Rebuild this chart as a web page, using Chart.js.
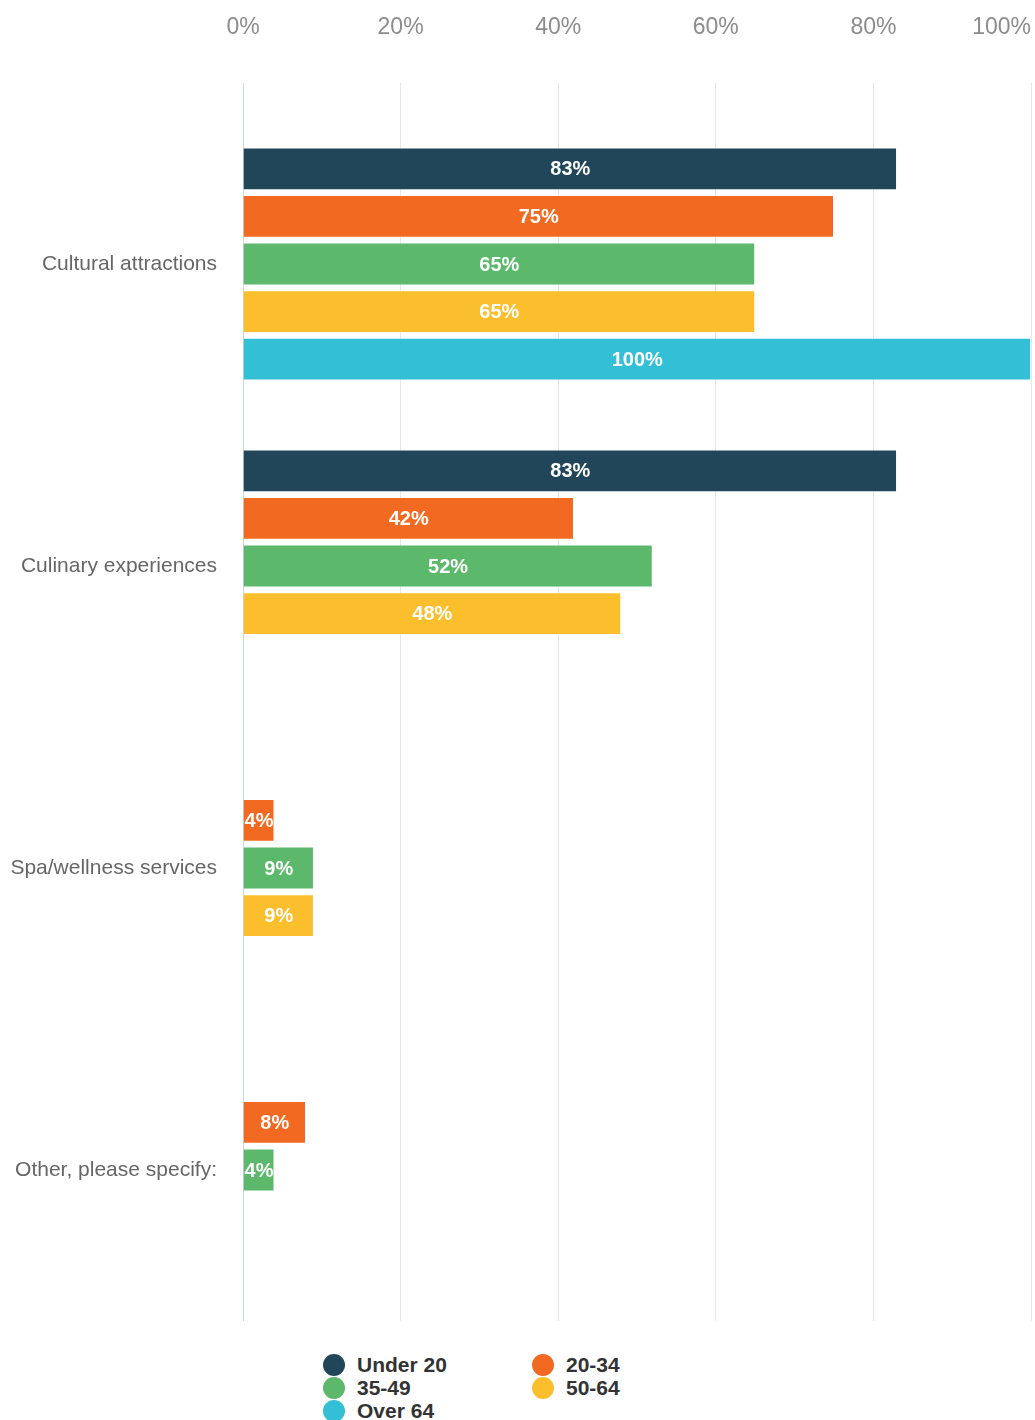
<!DOCTYPE html>
<html>
<head>
<meta charset="utf-8">
<title>Travel interests by age group</title>
<script src="https://cdn.jsdelivr.net/npm/chart.js@4/dist/chart.umd.min.js"></script>
<style>
  html, body { margin: 0; padding: 0; background: #ffffff; }
  #wrap { position: relative; width: 1035px; height: 1420px; }
  #box { position: absolute; left: 0; top: 0; width: 1035px; height: 1330px; }
  #legend {
    position: absolute; left: 323px; top: 1353px;
    display: grid; grid-template-columns: 209px 209px; grid-auto-rows: 23px;
    font: bold 21px 'Liberation Sans', Arial, sans-serif; color: #333333;
  }
  .item { display: flex; align-items: center; height: 23px; white-space: nowrap; }
  .dot { width: 22px; height: 22px; border-radius: 50%; margin-right: 12px; flex: none; }
</style>
</head>
<body>
<div id="wrap">
  <div id="box"><canvas id="chart"></canvas></div>
  <div id="legend"></div>
</div>
<script>
// Categories and answers (% of respondents per age group)
const categories = ['Cultural attractions', 'Culinary experiences', 'Spa/wellness services', 'Other, please specify:'];
const seriesNames = ['Under 20', '20-34', '35-49', '50-64', 'Over 64'];
const under20   = [83, 83, null, null];
const age20to34 = [75, 42, 4, 8];
const age35to49 = [65, 52, 9, 4];
const age50to64 = [65, 48, 9, null];
const over64    = [100, null, null, null];
const xTickValues = [0, 20, 40, 60, 80, 100];

const palette = ['#21465a', '#f26a21', '#5cb96b', '#fbbf2d', '#33bfd6'];
const seriesValues = [under20, age20to34, age35to49, age50to64, over64];

const FONT = "'Liberation Sans', Arial, sans-serif";
Chart.defaults.font.family = FONT;

// Percent labels across the top, kept inside the canvas at the right edge
const topTickLabels = {
  id: 'topTickLabels',
  afterDraw(chart) {
    const scale = chart.scales.x;
    const ctx = chart.ctx;
    ctx.save();
    ctx.font = '23px ' + FONT;
    ctx.fillStyle = '#8c8c8c';
    ctx.textBaseline = 'middle';
    ctx.textAlign = 'center';
    xTickValues.forEach(v => {
      const label = v + '%';
      const w = ctx.measureText(label).width;
      let x = scale.getPixelForValue(v);
      x = Math.min(x, chart.chartArea.right - w / 2);
      ctx.fillText(label, x, 28);
    });
    ctx.restore();
  }
};

// Value labels centred inside each bar
const barValueLabels = {
  id: 'barValueLabels',
  afterDatasetsDraw(chart) {
    const ctx = chart.ctx;
    ctx.save();
    ctx.font = 'bold 20px ' + FONT;
    ctx.fillStyle = '#ffffff';
    ctx.textAlign = 'center';
    ctx.textBaseline = 'middle';
    chart.data.datasets.forEach((ds, di) => {
      const meta = chart.getDatasetMeta(di);
      if (meta.hidden) return;
      meta.data.forEach((bar, i) => {
        const v = ds.data[i];
        if (v === null || v === undefined) return;
        const p = bar.getProps(['x', 'y', 'base'], true);
        ctx.fillText(v + '%', (p.x + p.base) / 2, p.y + 1);
      });
    });
    ctx.restore();
  }
};

const chart = new Chart(document.getElementById('chart'), {
  type: 'bar',
  data: {
    labels: categories,
    datasets: seriesNames.map((name, i) => ({
      label: name,
      data: seriesValues[i],
      backgroundColor: palette[i],
      borderColor: 'rgba(255,255,255,0.35)',
      borderWidth: 1,
      categoryPercentage: 0.788,
      barPercentage: 0.9
    }))
  },
  options: {
    indexAxis: 'y',
    responsive: true,
    maintainAspectRatio: false,
    animation: false,
    layout: { padding: { top: 83, bottom: 9, left: 0, right: 4 } },
    plugins: {
      legend: { display: false },
      tooltip: { enabled: false }
    },
    scales: {
      x: {
        position: 'top',
        min: 0,
        max: 100,
        ticks: { stepSize: 20, display: false },
        border: { display: false },
        grid: {
          tickLength: 30,
          lineWidth: 1,
          color: c => (c.tick && c.tick.value === 0) ? '#ccd6eb' : '#e6e6e6'
        }
      },
      y: {
        border: { display: false },
        grid: { display: false, drawTicks: false },
        ticks: {
          padding: 26,
          color: '#666666',
          font: { size: 21 }
        },
        afterFit(scale) {
          scale.width = 243;
          scale.paddingTop = 0;
          scale.paddingBottom = 0;
        }
      }
    }
  },
  plugins: [topTickLabels, barValueLabels]
});

// Legend laid out in two columns below the plot
const legendEl = document.getElementById('legend');
chart.data.datasets.forEach(ds => {
  const item = document.createElement('div');
  item.className = 'item';
  const dot = document.createElement('span');
  dot.className = 'dot';
  dot.style.background = ds.backgroundColor;
  const txt = document.createElement('span');
  txt.textContent = ds.label;
  item.appendChild(dot);
  item.appendChild(txt);
  legendEl.appendChild(item);
});
</script>
</body>
</html>
